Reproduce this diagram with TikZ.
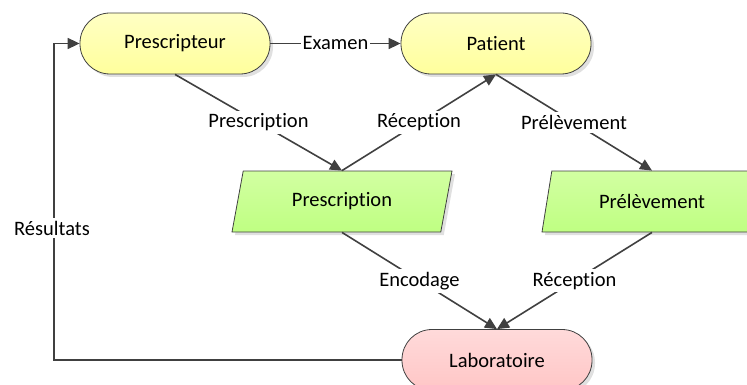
\documentclass[tikz,border=0pt]{standalone}
\usepackage{fontspec}
\setmainfont{Carlito}[Ligatures={NoCommon,NoContextual}]
\usetikzlibrary{shapes.geometric,arrows.meta,shadows}
\definecolor{linec}{HTML}{404040}
\definecolor{ytop}{HTML}{FFFFC4}
\definecolor{ybot}{HTML}{FFFF9C}
\definecolor{gtop}{HTML}{D2FFA2}
\definecolor{gbot}{HTML}{BFFF82}
\definecolor{ptop}{HTML}{FFDADA}
\definecolor{pbot}{HTML}{FFC6C6}
\begin{document}
\begin{tikzpicture}[x=1pt,y=-1pt,
  font=\fontsize{20.5}{24}\selectfont,
  shad/.style={drop shadow={shadow xshift=3pt,shadow yshift=-3pt,fill=black,opacity=0.12}},
  term/.style={draw=linec,line width=0.8pt,rectangle,rounded corners=30pt,
    minimum width=190pt,minimum height=61pt,shad},
  yterm/.style={term,top color=ytop,bottom color=ybot},
  pterm/.style={term,top color=ptop,bottom color=pbot},
  datab/.style={draw=linec,line width=0.8pt,trapezium,trapezium left angle=65,
    trapezium right angle=115,trapezium stretches body,
    minimum width=220pt,minimum height=61pt,top color=gtop,bottom color=gbot,shad},
  conn/.style={draw=linec,line width=1.6pt,-{Triangle[length=12pt,width=11pt]}},
  lbl/.style={fill=white,inner xsep=1.2pt,inner ysep=3pt,text=black}]
\useasboundingbox (0,0) rectangle (747,385);
\clip (0,0) rectangle (747,385);
\node[yterm] (pt) at (175,43.5) {Prescripteur};
\node[yterm] (pat) at (496,43.5) {Patient};
\node[datab] (pres) at (342,201.5) {Prescription};
\node[datab] (prel) at (652,201.5) {Prélèvement};
\node[pterm] (lab) at (497,360) {Laboratoire};
\coordinate (presN) at (pres.center |- pres.north);
\coordinate (presS) at (pres.center |- pres.south);
\coordinate (prelN) at (prel.center |- prel.north);
\coordinate (prelS) at (prel.center |- prel.south);
\coordinate (c1) at (54,360);
\coordinate (c2) at (54,43.5);
\draw[conn] (pt) -- node[lbl] {Examen} (pat);
\draw[conn] (pt.south) -- node[lbl] {Prescription} (presN);
\draw[conn] (presN) -- node[lbl] {Réception} (pat.south);
\draw[conn] (pat.south) -- node[lbl] {Prélèvement} (prelN);
\draw[conn] (presS) -- node[lbl] {Encodage} (lab.north);
\draw[conn] (prelS) -- node[lbl] {Réception} (lab.north);
\draw[conn] (lab.west) -- (c1) -- (c2) -- (pt.west);
\node[lbl] (res) at (52,228) {Résultats};
\end{tikzpicture}
\end{document}
